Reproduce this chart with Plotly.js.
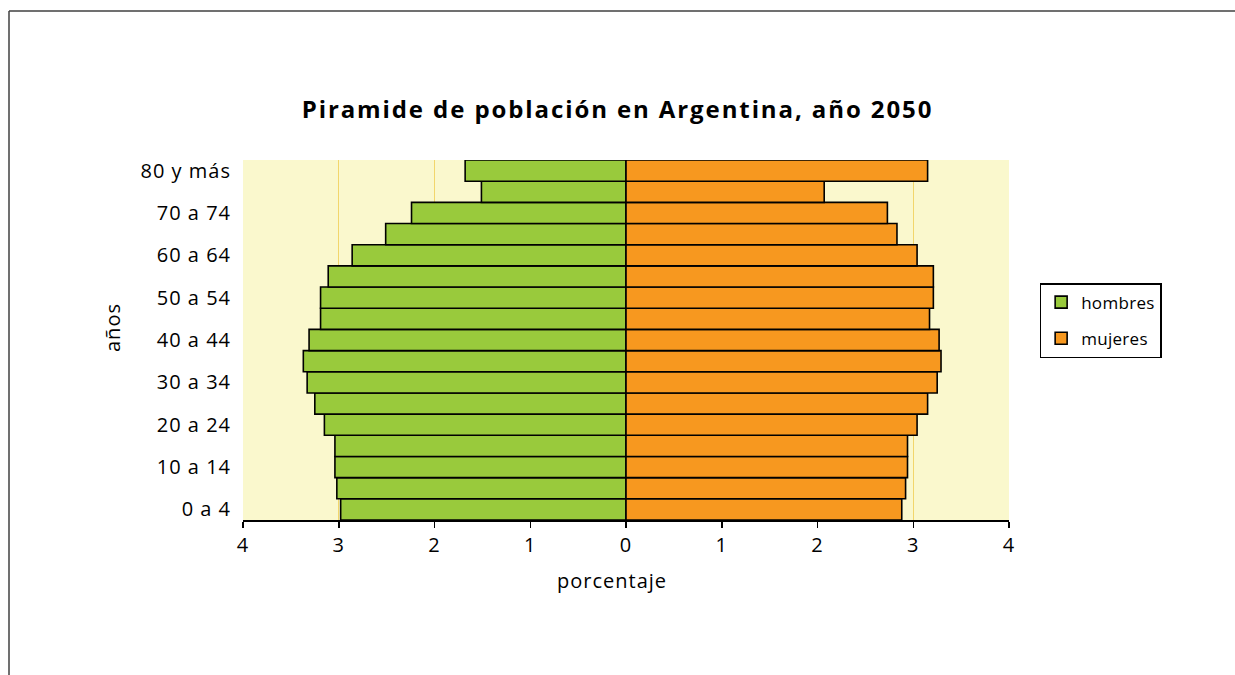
<!DOCTYPE html>
<html>
<head>
<meta charset="utf-8">
<script src="https://cdn.plot.ly/plotly-3.0.1.min.js"></script>
<style>
html,body{margin:0;padding:0;background:#fff;}
#chart{width:1235px;height:675px;}
.gtitle{letter-spacing:1.9px;}
.ytick text, .xtick text{letter-spacing:1px;}
.legendtext{letter-spacing:0.3px;}
.annotation-text{letter-spacing:1px;}
</style>
</head>
<body>
<div id="chart"></div>
<script>
const categories = ["0 a 4","5 a 9","10 a 14","15 a 19","20 a 24","25 a 29","30 a 34","35 a 39","40 a 44","45 a 49","50 a 54","55 a 59","60 a 64","65 a 69","70 a 74","75 a 79","80 y más"];
const hombres = [2.98, 3.02, 3.04, 3.04, 3.15, 3.25, 3.33, 3.37, 3.31, 3.19, 3.19, 3.11, 2.86, 2.51, 2.24, 1.51, 1.68];
const mujeres = [2.88, 2.92, 2.94, 2.94, 3.04, 3.15, 3.25, 3.29, 3.27, 3.17, 3.21, 3.21, 3.04, 2.83, 2.73, 2.07, 3.15];
const yTickLabels = ["0 a 4","10 a 14","20 a 24","30 a 34","40 a 44","50 a 54","60 a 64","70 a 74","80 y más"];
const xTickVals = [-4,-3,-2,-1,0,1,2,3,4];
const xTickText = ["4","3","2","1","0","1","2","3","4"];

const FONT = "'Open Sans', sans-serif";

const traces = [
  {
    type: "bar", orientation: "h", name: "hombres", legendgroup: "h",
    y: categories, x: hombres.map(v => -v),
    marker: {color: "#99CA3C", line: {color: "#000000", width: 1.6}},
    hoverinfo: "none"
  },
  {
    type: "bar", orientation: "h", name: "mujeres", legendgroup: "m",
    y: categories, x: mujeres,
    marker: {color: "#F7981F", line: {color: "#000000", width: 1.6}},
    hoverinfo: "none"
  }
];

const layout = {
  width: 1235, height: 675,
  paper_bgcolor: "#ffffff",
  plot_bgcolor: "#FAF8CD",
  font: {family: FONT, color: "#000000", size: 20},
  margin: {l: 243, r: 226, t: 160, b: 155, pad: 0},
  barmode: "relative",
  bargap: 0,
  title: {
    text: "<b>Piramide de población en Argentina, año 2050</b>",
    font: {family: FONT, size: 24, color: "#000000"},
    x: 611, xanchor: "center", xref: "container",
    y: 0.837, yanchor: "middle", yref: "container"
  },
  xaxis: {
    range: [-4, 4],
    tickvals: xTickVals, ticktext: xTickText,
    ticks: "outside", ticklen: 6, tickwidth: 1.5, tickcolor: "#000000",
    showline: true, linecolor: "#000000", linewidth: 1.5,
    showgrid: true, gridcolor: "#F2D66B", gridwidth: 1,
    zeroline: true, zerolinecolor: "#000000", zerolinewidth: 2,
    tickfont: {size: 20},
    fixedrange: true
  },
  yaxis: {
    type: "category",
    categoryorder: "array", categoryarray: categories,
    tickvals: yTickLabels, ticktext: yTickLabels,
    ticks: "", showline: false, showgrid: false, zeroline: false,
    tickfont: {size: 20},
    ticklabelstandoff: 11,
    fixedrange: true
  },
  annotations: [
    {text: "porcentaje", xref: "paper", yref: "paper", x: (612 - 243) / 766, y: (520 - 580) / 360,
     xanchor: "center", yanchor: "middle", showarrow: false, font: {size: 20}},
    {text: "años", xref: "paper", yref: "paper", x: (112 - 243) / 766, y: (520 - 328) / 360,
     xanchor: "center", yanchor: "middle", textangle: -90, showarrow: false, font: {size: 20}}
  ],
  legend: {
    x: 1.04, xanchor: "left", xref: "paper",
    y: 0.658, yanchor: "top", yref: "paper",
    bgcolor: "#ffffff", bordercolor: "#000000", borderwidth: 1.5,
    font: {size: 17, family: FONT},
    traceorder: "grouped",
    tracegroupgap: 11,
    itemwidth: 30
  },
  shapes: [
    {type: "line", xref: "paper", yref: "paper", x0: (9 - 243) / 766, x1: (1240 - 243) / 766, y0: (520 - 11) / 360, y1: (520 - 11) / 360, line: {color: "#404040", width: 1.5}},
    {type: "line", xref: "paper", yref: "paper", x0: (9 - 243) / 766, x1: (9 - 243) / 766, y0: (520 - 11) / 360, y1: (520 - 680) / 360, line: {color: "#404040", width: 1.5}}
  ],
  showlegend: true
};

Plotly.newPlot("chart", traces, layout, {displayModeBar: false, staticPlot: true});
</script>
</body>
</html>
